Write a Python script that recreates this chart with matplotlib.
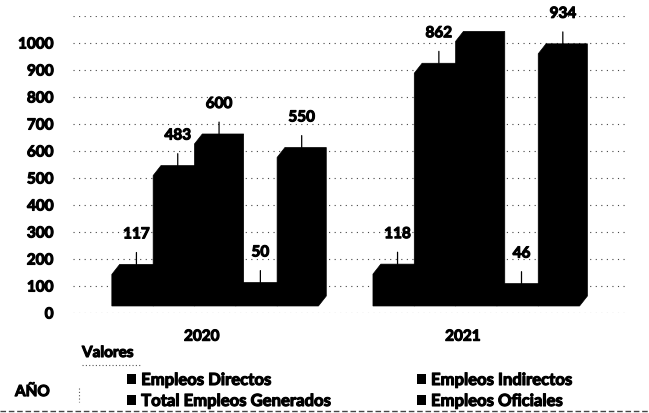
import matplotlib.pyplot as plt
import matplotlib.patheffects as pe
from matplotlib.lines import Line2D
from matplotlib.patches import Patch

plt.rcParams['font.family'] = ['Lato', 'DejaVu Sans']
plt.rcParams['font.weight'] = 'bold'

years = ['2020', '2021']
directos = [117, 118]
indirectos = [483, 862]
total = [600, 980]
oficiales = [50, 46]
otros = [550, 934]

series = [directos, indirectos, total, oficiales, otros]
legend_names = ['Empleos Directos', 'Empleos Indirectos',
                'Total Empleos Generados', 'Empleos Oficiales']

# 3d look: floor offset and depth of each bar
base = 26
dx, dy = 0.19, 37
group_start = [0, 6.32]
fs = 11
thick = [pe.withStroke(linewidth=0.8, foreground='black')]

fig = plt.figure(figsize=(6.49, 4.13), dpi=100)
ax = fig.add_axes([73 / 649, 1 - 313 / 413, 552 / 649, 297 / 413])

for g, start in enumerate(group_start):
    for i, s in enumerate(series):
        x = start + i
        v = s[g]
        top = base + v
        # front face + top + side as one block
        ax.fill([x - 0.5, x - 0.5, x - 0.5 + dx, x + 0.5 + dx, x + 0.5 + dx, x + 0.5],
                [base, top, top + dy, top + dy, base + dy, base],
                color='black', lw=0.5, zorder=3)
        # the label of the 2021 total is cut off in the source
        if s is total and g == 1:
            continue
        ax.annotate(str(v), xy=(x + dx / 2, top + dy), xytext=(0, 30),
                    textcoords='offset pixels', ha='center', va='center',
                    fontsize=fs, path_effects=thick,
                    arrowprops=dict(arrowstyle='-', lw=0.9, color='black',
                                    shrinkA=6, shrinkB=0))

ax.set_xlim(-1.44, 11.92)
ax.set_ylim(0, 1100)
ax.set_yticks(range(0, 1001, 100))
ax.set_xticks([start + 1.68 for start in group_start])
ax.set_xticklabels(years)
ax.tick_params(axis='y', length=0, pad=14, labelsize=fs)
ax.tick_params(axis='x', length=0, pad=12, labelsize=fs)
for lab in ax.get_yticklabels() + ax.get_xticklabels():
    lab.set_path_effects(thick)

for yv in range(0, 1101, 100):
    ax.axhline(yv, color='#444444', lw=0.8, ls=(0, (1, 4)), zorder=1)
for sp in ax.spines.values():
    sp.set_visible(False)

# pivot field buttons
fig.text(82 / 649, 1 - 353 / 413, 'Valores', fontsize=fs, va='center', ha='left',
         path_effects=thick)
fig.add_artist(Line2D([82 / 649, 140 / 649], [1 - 365 / 413] * 2, color='#555555',
                      lw=0.8, ls=(0, (1, 2))))
fig.text(15 / 649, 1 - 392 / 413, 'AÑO', fontsize=fs, va='center', ha='left',
         path_effects=thick)
fig.add_artist(Line2D([79 / 649] * 2, [1 - 388 / 413, 1 - 402 / 413], color='#555555',
                      lw=0.8, ls=(0, (1, 2))))
fig.add_artist(Line2D([0, 1], [1 - 411 / 413] * 2, color='#444444',
                      lw=1.0, ls=(0, (4, 2))))

handles = [Patch(facecolor='black', label=n) for n in legend_names]
order = [0, 2, 1, 3]
leg = fig.legend([handles[k] for k in order], [legend_names[k] for k in order],
                 ncol=2, loc='upper left', bbox_to_anchor=(127 / 649, 1 - 372 / 413),
                 frameon=False, fontsize=12, handlelength=0.55, handleheight=0.55,
                 handletextpad=0.3, columnspacing=5.2, labelspacing=0.3,
                 borderaxespad=0, borderpad=0)
for t in leg.get_texts():
    t.set_path_effects(thick)

fig.savefig('out.png', dpi=100)
